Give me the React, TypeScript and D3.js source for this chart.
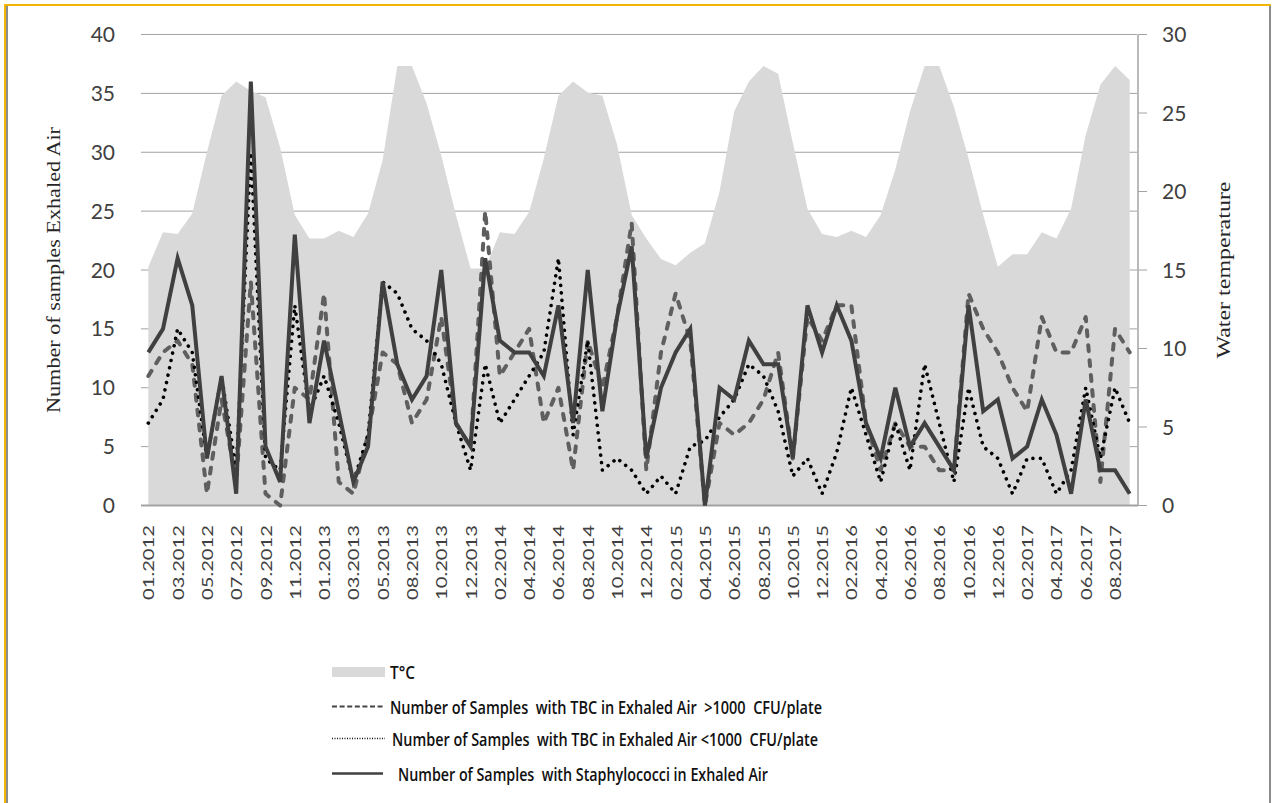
import React, { useEffect, useRef } from 'react';
import * as d3 from 'd3';

// monthly categories (one summer month of 2013 is missing in the source)
const months = [
  '01.2012', '02.2012', '03.2012', '04.2012', '05.2012', '06.2012', '07.2012', '08.2012', '09.2012', '10.2012', '11.2012', '12.2012',
  '01.2013', '02.2013', '03.2013', '04.2013', '05.2013', '06.2013', '08.2013', '09.2013', '10.2013', '11.2013', '12.2013',
  '01.2014', '02.2014', '03.2014', '04.2014', '05.2014', '06.2014', '07.2014', '08.2014', '09.2014', '10.2014', '11.2014', '12.2014',
  '01.2015', '02.2015', '03.2015', '04.2015', '05.2015', '06.2015', '07.2015', '08.2015', '09.2015', '10.2015', '11.2015', '12.2015',
  '01.2016', '02.2016', '03.2016', '04.2016', '05.2016', '06.2016', '07.2016', '08.2016', '09.2016', '10.2016', '11.2016', '12.2016',
  '01.2017', '02.2017', '03.2017', '04.2017', '05.2017', '06.2017', '07.2017', '08.2017', '09.2017',
];

// water temperature, right axis
const tempC = [
  15.2, 17.4, 17.3, 18.6, 22.5, 26.1, 27.0, 26.4, 26.0, 22.8, 18.5, 17.0,
  17.0, 17.5, 17.1, 18.6, 22.0, 28.0, 28.0, 25.6, 22.3, 18.5, 15.1,
  15.1, 17.4, 17.3, 18.7, 22.1, 26.1, 27.0, 26.3, 26.1, 23.0, 18.5, 17.0,
  15.7, 15.3, 16.1, 16.7, 20.0, 25.1, 27.0, 28.0, 27.5, 23.1, 18.9, 17.3,
  17.1, 17.5, 17.1, 18.5, 21.4, 25.1, 28.0, 28.0, 25.4, 22.1, 18.5, 15.2,
  16.0, 16.0, 17.4, 17.0, 18.9, 23.6, 26.8, 28.0, 27.1,
];

// samples with TBC > 1000 CFU/plate (dashed)
const tbcHigh = [
  11, 13, 14, 12, 1, 9, 2, 19, 1, 0, 10, 9,
  18, 2, 1, 6, 13, 12, 7, 9, 16, 7, 5,
  25, 11, 13, 15, 7, 10, 3, 14, 10, 16, 24, 3,
  13, 18, 14, 0, 7, 6, 7, 9, 13, 4, 16, 14,
  17, 17, 7, 3, 7, 5, 5, 3, 3, 18, 15, 13,
  10, 8, 16, 13, 13, 16, 2, 15, 13,
];

// samples with TBC < 1000 CFU/plate (dotted)
const tbcLow = [
  7, 9, 15, 13, 4, 11, 3, 30, 4, 3, 17, 8,
  11, 7, 2, 6, 19, 18, 15, 14, 12, 7, 3,
  12, 7, 9, 11, 13, 21, 6, 14, 3, 4, 3, 1,
  2.5, 1, 5, 5.5, 7.5, 9, 12, 11, 8, 2.5, 4, 1,
  4.5, 10, 6, 2, 7, 3, 12, 7, 2, 10, 5, 4,
  1, 4, 4, 1, 3, 10, 4, 10, 7,
];

// samples with Staphylococci (solid)
const staph = [
  13, 15, 21, 17, 4, 11, 1, 36, 5, 2, 23, 7,
  14, 8, 2, 5, 19, 12, 9, 11, 20, 7, 5,
  21, 14, 13, 13, 11, 17, 7, 20, 8, 16, 22, 4,
  10, 13, 15, 0, 10, 9, 14, 12, 12, 4, 17, 13,
  17, 14, 7, 4, 10, 5, 7, 5, 3, 17, 8, 9,
  4, 5, 9, 6, 1, 9, 3, 3, 1,
];

const leftTicks = [0, 5, 10, 15, 20, 25, 30, 35, 40];
const rightTicks = [0, 5, 10, 15, 20, 25, 30];

const legendItems = [
  { key: 'area', label: 'T°C' },
  { key: 'dash', label: 'Number of Samples  with TBC in Exhaled Air  >1000  CFU/plate' },
  { key: 'dot', label: 'Number of Samples  with TBC in Exhaled Air <1000  CFU/plate' },
  { key: 'solid', label: 'Number of Samples  with Staphylococci in Exhaled Air' },
];

const NUM_FONT = 'Lato, "Open Sans", sans-serif';
const SERIF = '"Liberation Serif", "DejaVu Serif", serif';
const LEG_FONT = '"Open Sans", Lato, sans-serif';

export default function App() {
  const svgRef = useRef<SVGSVGElement | null>(null);

  useEffect(() => {
    if (!svgRef.current) return;
    const W = 1278;
    const H = 803;
    const L = 141, R = 1137, T = 34.5, B = 505.5;

    const svg = d3.select(svgRef.current);
    svg.attr('width', W).attr('height', H).attr('viewBox', `0 0 ${W} ${H}`);
    svg.selectAll('*').remove();

    svg.append('rect').attr('width', W).attr('height', H).attr('fill', '#fff');

    // frame (orange selection edge + grey border)
    svg.append('line').attr('x1', 4).attr('x2', 1271).attr('y1', 5).attr('y2', 5).attr('stroke', '#f2b600').attr('stroke-width', 2);
    svg.append('line').attr('x1', 5).attr('x2', 5).attr('y1', 4).attr('y2', H).attr('stroke', '#f2b600').attr('stroke-width', 2);
    svg.append('line').attr('x1', 7).attr('x2', 7).attr('y1', 6).attr('y2', H).attr('stroke', '#8c8c8c').attr('stroke-width', 2);
    svg.append('line').attr('x1', 1270).attr('x2', 1270).attr('y1', 6).attr('y2', H).attr('stroke', '#8c8c8c').attr('stroke-width', 2);

    const x = d3.scaleBand<string>().domain(months).range([L, R]).padding(0);
    const cx = (i: number) => (x(months[i]) ?? 0) + x.bandwidth() / 2;
    const yL = d3.scaleLinear().domain([0, 40]).range([B, T]);
    const yR = d3.scaleLinear().domain([0, 30]).range([B, T]);

    // gridlines (left axis)
    svg.append('g').selectAll('line').data(leftTicks.filter(v => v > 0)).enter().append('line')
      .attr('x1', L).attr('x2', R)
      .attr('y1', d => yL(d)).attr('y2', d => yL(d))
      .attr('stroke', '#a3a3a3').attr('stroke-width', 1);

    // temperature area
    const area = d3.area<number>()
      .x((_, i) => cx(i))
      .y0(yR(0))
      .y1(d => yR(d));
    svg.append('path').datum(tempC).attr('d', area).attr('fill', '#d9d9d9');

    // baseline
    svg.append('line').attr('x1', L).attr('x2', R + 1).attr('y1', B).attr('y2', B)
      .attr('stroke', '#a3a3a3').attr('stroke-width', 2);

    // right axis
    svg.append('line').attr('x1', R + 1).attr('x2', R + 1).attr('y1', T).attr('y2', B)
      .attr('stroke', '#a3a3a3').attr('stroke-width', 1.5);
    svg.append('g').selectAll('line').data(rightTicks).enter().append('line')
      .attr('x1', R + 1).attr('x2', R + 10)
      .attr('y1', d => yR(d)).attr('y2', d => yR(d))
      .attr('stroke', '#a3a3a3').attr('stroke-width', 1);

    const line = d3.line<number>().x((_, i) => cx(i)).y(d => yL(d));

    svg.append('path').datum(tbcHigh).attr('d', line)
      .attr('fill', 'none').attr('stroke', '#5f5f5f').attr('stroke-width', 4)
      .attr('stroke-linecap', 'round').attr('stroke-linejoin', 'round')
      .attr('stroke-dasharray', '6 9');

    svg.append('path').datum(tbcLow).attr('d', line)
      .attr('fill', 'none').attr('stroke', '#000').attr('stroke-width', 3.6)
      .attr('stroke-linecap', 'round').attr('stroke-linejoin', 'round')
      .attr('stroke-dasharray', '0.01 7.5');

    svg.append('path').datum(staph).attr('d', line)
      .attr('fill', 'none').attr('stroke', '#404040').attr('stroke-width', 4)
      .attr('stroke-linejoin', 'miter');

    // left tick labels
    svg.append('g').selectAll('text').data(leftTicks).enter().append('text')
      .attr('x', 115).attr('y', d => yL(d)).attr('dy', '0.36em')
      .attr('text-anchor', 'end')
      .attr('font-family', NUM_FONT).attr('font-size', 21).attr('fill', '#404040')
      .text(d => d);

    // right tick labels
    svg.append('g').selectAll('text').data(rightTicks).enter().append('text')
      .attr('x', 1162).attr('y', d => yR(d)).attr('dy', '0.36em')
      .attr('text-anchor', 'start')
      .attr('font-family', NUM_FONT).attr('font-size', 21).attr('fill', '#404040')
      .text(d => d);

    // month labels, every second category
    const labelIdx = months.map((_, i) => i).filter(i => i % 2 === 0);
    svg.append('g').selectAll('text').data(labelIdx).enter().append('text')
      .attr('transform', i => `translate(${cx(i) + 6},525) rotate(-90)`)
      .attr('text-anchor', 'end')
      .attr('font-family', NUM_FONT).attr('font-size', 16).attr('fill', '#404040')
      .attr('textLength', 75).attr('lengthAdjust', 'spacingAndGlyphs')
      .text(i => months[i]);

    // axis titles
    svg.append('text')
      .attr('transform', 'translate(60,270) rotate(-90)')
      .attr('text-anchor', 'middle')
      .attr('font-family', SERIF).attr('font-size', 19).attr('fill', '#262626')
      .attr('textLength', 286).attr('lengthAdjust', 'spacingAndGlyphs')
      .text('Number of samples Exhaled Air');
    svg.append('text')
      .attr('transform', 'translate(1230,270) rotate(-90)')
      .attr('text-anchor', 'middle')
      .attr('font-family', SERIF).attr('font-size', 19).attr('fill', '#262626')
      .attr('textLength', 177).attr('lengthAdjust', 'spacingAndGlyphs')
      .text('Water temperature');

    // legend
    const legY = [672, 706.5, 738.5, 773.5];
    const legTextX = [390, 390, 392, 398];
    const legTextW = [25, 432, 426, 370];
    const lg = svg.append('g');
    legendItems.forEach((it, k) => {
      const y = legY[k];
      if (it.key === 'area') {
        lg.append('rect').attr('x', 332).attr('y', y - 5).attr('width', 53).attr('height', 10).attr('fill', '#d9d9d9');
      } else if (it.key === 'dash') {
        lg.append('line').attr('x1', 332).attr('x2', 385).attr('y1', y).attr('y2', y)
          .attr('stroke', '#444').attr('stroke-width', 1.8).attr('stroke-dasharray', '5 2.6');
      } else if (it.key === 'dot') {
        lg.append('line').attr('x1', 332).attr('x2', 385).attr('y1', y).attr('y2', y)
          .attr('stroke', '#111').attr('stroke-width', 1.4).attr('stroke-dasharray', '1 1.5');
      } else {
        lg.append('line').attr('x1', 332).attr('x2', 383).attr('y1', y).attr('y2', y)
          .attr('stroke', '#404040').attr('stroke-width', 2.4);
      }
      lg.append('text')
        .attr('x', legTextX[k]).attr('y', y + 7)
        .attr('font-family', LEG_FONT).attr('font-size', 18.5).attr('font-weight', 600)
        .attr('fill', '#111')
        .attr('textLength', legTextW[k]).attr('lengthAdjust', 'spacingAndGlyphs')
        .style('white-space', 'pre')
        .text(it.label);
    });
  }, []);

  return (
    <div style={{ position: 'absolute', left: 0, top: 0, width: 1278, height: 803, background: '#fff' }}>
      <svg ref={svgRef} style={{ display: 'block' }} />
    </div>
  );
}
